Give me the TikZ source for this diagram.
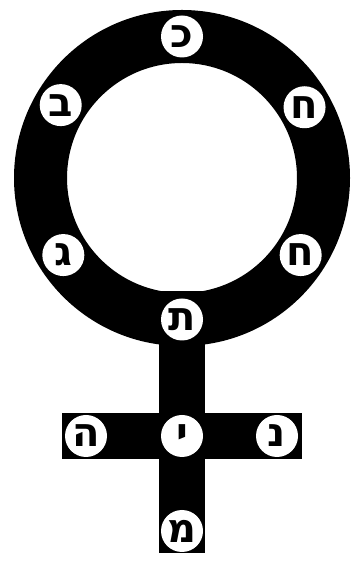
\documentclass[tikz,border=0pt]{standalone}
\usepackage{fontspec}
\newfontfamily\hebfont[Script=Hebrew]{DejaVu Sans}
\usetikzlibrary{calc}

\begin{document}
\begin{tikzpicture}[x=1pt, y=1pt,
  ltr/.style={circle, fill=white, minimum size=42pt, inner sep=0pt, font=\hebfont\bfseries\fontsize{40}{40}\selectfont}]
\useasboundingbox (0,0) rectangle (357,561);
% Ring
\coordinate (c) at (182,383);
\fill[black, even odd rule] (c) circle (168) (c) circle (115);
% Cross
\fill[black] (159,8) rectangle (205,270);
\fill[black] (62,102) rectangle (302,148);
% Letters on the ring
\node[ltr] (kaf) at ($(c)+(90:141.5)$) {כ};
\node[ltr] (bet) at ($(c)+(149:141.5)$) {ב};
\node[ltr] (chet1) at ($(c)+(30:141.5)$) {ח};
\node[ltr] (gimel) at ($(c)+(213:141.5)$) {ג};
\node[ltr] (chet2) at ($(c)+(-33:141.5)$) {ח};
\node[ltr] (tav) at ($(c)+(270:141.5)$) {ת};
% Letters on the cross
\node[ltr] (he) at (86,125) {ה};
\node[ltr] (yod) at (182,125) {י};
\node[ltr] (nun) at (277,125) {נ};
\node[ltr] (mem) at (182,30) {מ};
\end{tikzpicture}
\end{document}
